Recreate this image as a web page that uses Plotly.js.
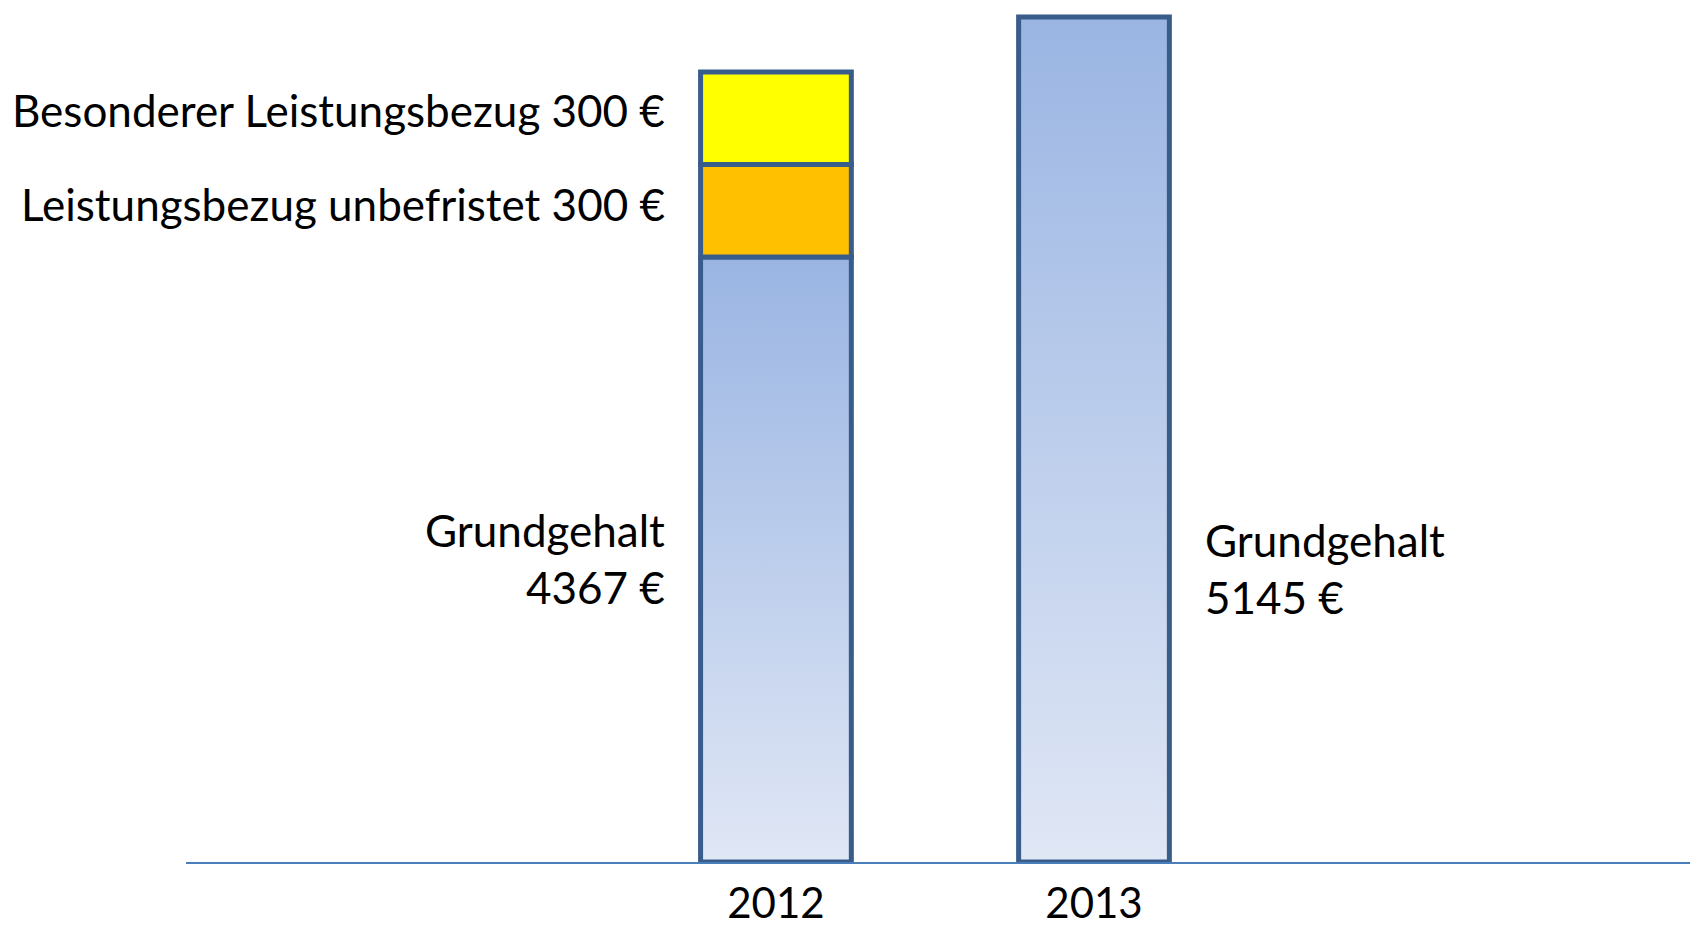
<!DOCTYPE html>
<html>
<head>
<meta charset="utf-8">
<script src="https://cdn.plot.ly/plotly-3.0.1.min.js"></script>
<style>
  html, body { margin: 0; padding: 0; background: #ffffff; }
  #chart { width: 1690px; height: 925px; }
</style>
</head>
<body>
<div id="chart"></div>
<script>
// ---- data ----
const years = ['2012', '2013'];
const grundgehalt = [4367, 5145];
const leistungUnbefristet = [300, null];
const besondererLeistung = [300, null];
const labelGrund = 'Grundgehalt';
const labelUnbefristet = 'Leistungsbezug unbefristet';
const labelBesonderer = 'Besonderer Leistungsbezug';

// truncated value axis (the drawing does not start at zero)
const axisMin = 2406;
const axisMax = 5200;

const FONT = 'Lato, "Open Sans", sans-serif';
const borderColor = '#385d8a';
const borderWidth = 5;
const barWidth = 0.474;

const grundTrace = {
  type: 'bar', name: labelGrund, x: years,
  base: grundgehalt.map(() => axisMin),
  y: grundgehalt.map(v => v - axisMin),
  width: barWidth,
  marker: { color: '#b9cbec', line: { color: borderColor, width: borderWidth } },
  cliponaxis: false, hoverinfo: 'skip'
};
const unbefristetTrace = {
  type: 'bar', name: labelUnbefristet, x: years,
  base: grundgehalt,
  y: leistungUnbefristet,
  width: barWidth,
  marker: { color: '#ffc000', line: { color: borderColor, width: borderWidth } },
  cliponaxis: false, hoverinfo: 'skip'
};
const besondererTrace = {
  type: 'bar', name: labelBesonderer, x: years,
  base: grundgehalt.map((v, i) => v + (leistungUnbefristet[i] || 0)),
  y: besondererLeistung,
  width: barWidth,
  marker: { color: '#ffff00', line: { color: borderColor, width: borderWidth } },
  cliponaxis: false, hoverinfo: 'skip'
};

const textFont = { family: FONT, size: 44, color: '#000000' };
const i2012 = 0, i2013 = 1; // category indices on the x axis

const annotations = [
  {
    xref: 'x', yref: 'y', x: i2012,
    y: grundgehalt[0] + leistungUnbefristet[0] + besondererLeistung[0] / 2,
    text: labelBesonderer + ' ' + besondererLeistung[0] + ' €',
    xanchor: 'right', yanchor: 'middle', xshift: -109, yshift: 8,
    showarrow: false, font: textFont, align: 'right'
  },
  {
    xref: 'x', yref: 'y', x: i2012,
    y: grundgehalt[0] + leistungUnbefristet[0] / 2,
    text: labelUnbefristet + ' ' + leistungUnbefristet[0] + ' €',
    xanchor: 'right', yanchor: 'middle', xshift: -109, yshift: 7,
    showarrow: false, font: textFont, align: 'right'
  },
  {
    xref: 'x', yref: 'y', x: i2012,
    y: (axisMin + grundgehalt[0]) / 2,
    text: labelGrund + '<br>' + grundgehalt[0] + ' €',
    xanchor: 'right', yanchor: 'middle', xshift: -109, yshift: 1,
    showarrow: false, font: textFont, align: 'right'
  },
  {
    xref: 'x', yref: 'paper', x: i2013, y: 0.341,
    text: labelGrund + '<br>' + grundgehalt[1] + ' €',
    xanchor: 'left', yanchor: 'middle', xshift: 109,
    showarrow: false, font: textFont, align: 'left'
  }
];

const layout = {
  width: 1690, height: 925,
  margin: { l: 186, r: 0, t: 0, b: 63, pad: 0 },
  paper_bgcolor: '#ffffff', plot_bgcolor: '#ffffff',
  barmode: 'overlay',
  showlegend: false,
  xaxis: {
    type: 'category', range: [-1.855, 2.874],
    showline: true, linecolor: '#4a7ebb', linewidth: 1.5,
    showgrid: false, zeroline: false, ticks: '',
    tickfont: { family: FONT, size: 42, color: '#000000' },
    ticklabelstandoff: 4,
    layer: 'below traces', fixedrange: true
  },
  yaxis: {
    range: [axisMin, axisMax], visible: false,
    showgrid: false, zeroline: false, fixedrange: true
  },
  annotations: annotations
};

const gd = document.getElementById('chart');

function applyGradient() {
  const svg = gd.querySelector('svg.main-svg');
  if (!svg) return;
  let defs = svg.querySelector('defs');
  if (!defs) { defs = document.createElementNS('http://www.w3.org/2000/svg', 'defs'); svg.insertBefore(defs, svg.firstChild); }
  if (!svg.querySelector('#blueGrad')) {
    const g = document.createElementNS('http://www.w3.org/2000/svg', 'linearGradient');
    g.setAttribute('id', 'blueGrad');
    g.setAttribute('x1', '0'); g.setAttribute('y1', '0');
    g.setAttribute('x2', '0'); g.setAttribute('y2', '1');
    [['0', '#9ab5e3'], ['1', '#e0e7f5']].forEach(([o, c]) => {
      const s = document.createElementNS('http://www.w3.org/2000/svg', 'stop');
      s.setAttribute('offset', o); s.setAttribute('stop-color', c);
      g.appendChild(s);
    });
    defs.appendChild(g);
  }
  const traces = gd.querySelectorAll('.barlayer .trace');
  if (traces.length) {
    traces[0].querySelectorAll('path').forEach(p => { p.style.fill = 'url(#blueGrad)'; });
  }
}

Plotly.newPlot(gd, [grundTrace, unbefristetTrace, besondererTrace], layout,
  { displayModeBar: false, staticPlot: true }).then(() => {
  applyGradient();
  gd.on && gd.on('plotly_afterplot', applyGradient);
});
</script>
</body>
</html>
